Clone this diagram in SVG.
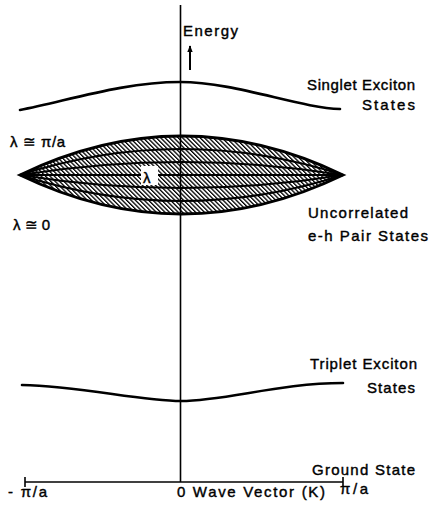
<svg xmlns="http://www.w3.org/2000/svg" width="430" height="506" viewBox="0 0 430 506">
<defs>
<pattern id="hatch" patternUnits="userSpaceOnUse" width="3.1" height="3.1" patternTransform="rotate(-45)">
<rect x="0" y="0" width="1.3" height="3.1" fill="#000"/>
</pattern>
<marker id="arr" viewBox="0 0 10 10" refX="9" refY="5" markerWidth="7" markerHeight="7" markerUnits="userSpaceOnUse" orient="auto">
<path d="M0,1 L10,5 L0,9 Z" fill="#000"/>
</marker>
</defs>
<style>
text{font-family:"Liberation Sans",Arial,sans-serif;font-size:15px;fill:#000;stroke:#000;stroke-width:0.4px}
.curve{fill:none;stroke:#000;stroke-width:2.6;stroke-linecap:round}
.axis{fill:none;stroke:#000;stroke-width:1.6}
.band{fill:none;stroke:#000;stroke-width:2}
</style>
<rect width="430" height="506" fill="#fff"/>
<g id="connectors">
<line class="axis" x1="180.5" y1="5" x2="180.5" y2="482"/>
<line class="axis" x1="25" y1="482" x2="343" y2="482"/>
<line class="axis" x1="25" y1="477" x2="25" y2="487"/>
<line class="axis" x1="343" y1="477" x2="343" y2="487"/>
<line x1="190" y1="70" x2="190" y2="46" stroke="#000" stroke-width="2" marker-end="url(#arr)"/>
</g>
<g id="singlet">
<path class="curve" d="M20,110 C70,100 125,82 180,82 C235,82 300,108 340,109"/>
<text x="307" y="90" textLength="108" lengthAdjust="spacing">Singlet Exciton</text>
<text x="362" y="110" textLength="53" lengthAdjust="spacing">States</text>
</g>
<g id="pairs">
<path d="M20,175 Q181.5,97 343,175 Q181.5,253 20,175 Z" fill="url(#hatch)"/>
<path class="band" d="M20,175 Q181.5,123 343,175"/>
<path class="band" d="M20,175 Q181.5,149 343,175"/>
<path class="band" d="M20,175 L343,175"/>
<path class="band" d="M20,175 Q181.5,201 343,175"/>
<path class="band" d="M20,175 Q181.5,227 343,175"/>
<path d="M20,175 Q181.5,97 343,175 Q181.5,253 20,175 Z" fill="none" stroke="#000" stroke-width="3" stroke-linejoin="miter"/>
<rect x="141" y="166" width="17" height="19" fill="#fff"/>
<text x="143" y="183">λ</text>
<text x="10" y="147" textLength="55" lengthAdjust="spacing">λ ≅ π/a</text>
<text x="13" y="230" textLength="37" lengthAdjust="spacing">λ ≅ 0</text>
<text x="308" y="218" textLength="100" lengthAdjust="spacing">Uncorrelated</text>
<text x="308" y="241" textLength="120" lengthAdjust="spacing">e-h Pair States</text>
</g>
<g id="triplet">
<path class="curve" d="M22,385 C80,386 140,401 181,401 C225,401 280,383 343,383"/>
<text x="310" y="369" textLength="107" lengthAdjust="spacing">Triplet Exciton</text>
<text x="367" y="393" textLength="48" lengthAdjust="spacing">States</text>
</g>
<g id="energy">
<text x="183" y="36" textLength="55" lengthAdjust="spacing">Energy</text>
</g>
<g id="ground">
<text x="312" y="475" textLength="103" lengthAdjust="spacing">Ground State</text>
</g>
<g id="axis-labels">
<text x="8" y="497" textLength="39" lengthAdjust="spacing">- π/a</text>
<text x="177" y="497" textLength="148" lengthAdjust="spacing">0 Wave Vector (K)</text>
<text x="340" y="494" textLength="28" lengthAdjust="spacing">π/a</text>
</g>
</svg>
